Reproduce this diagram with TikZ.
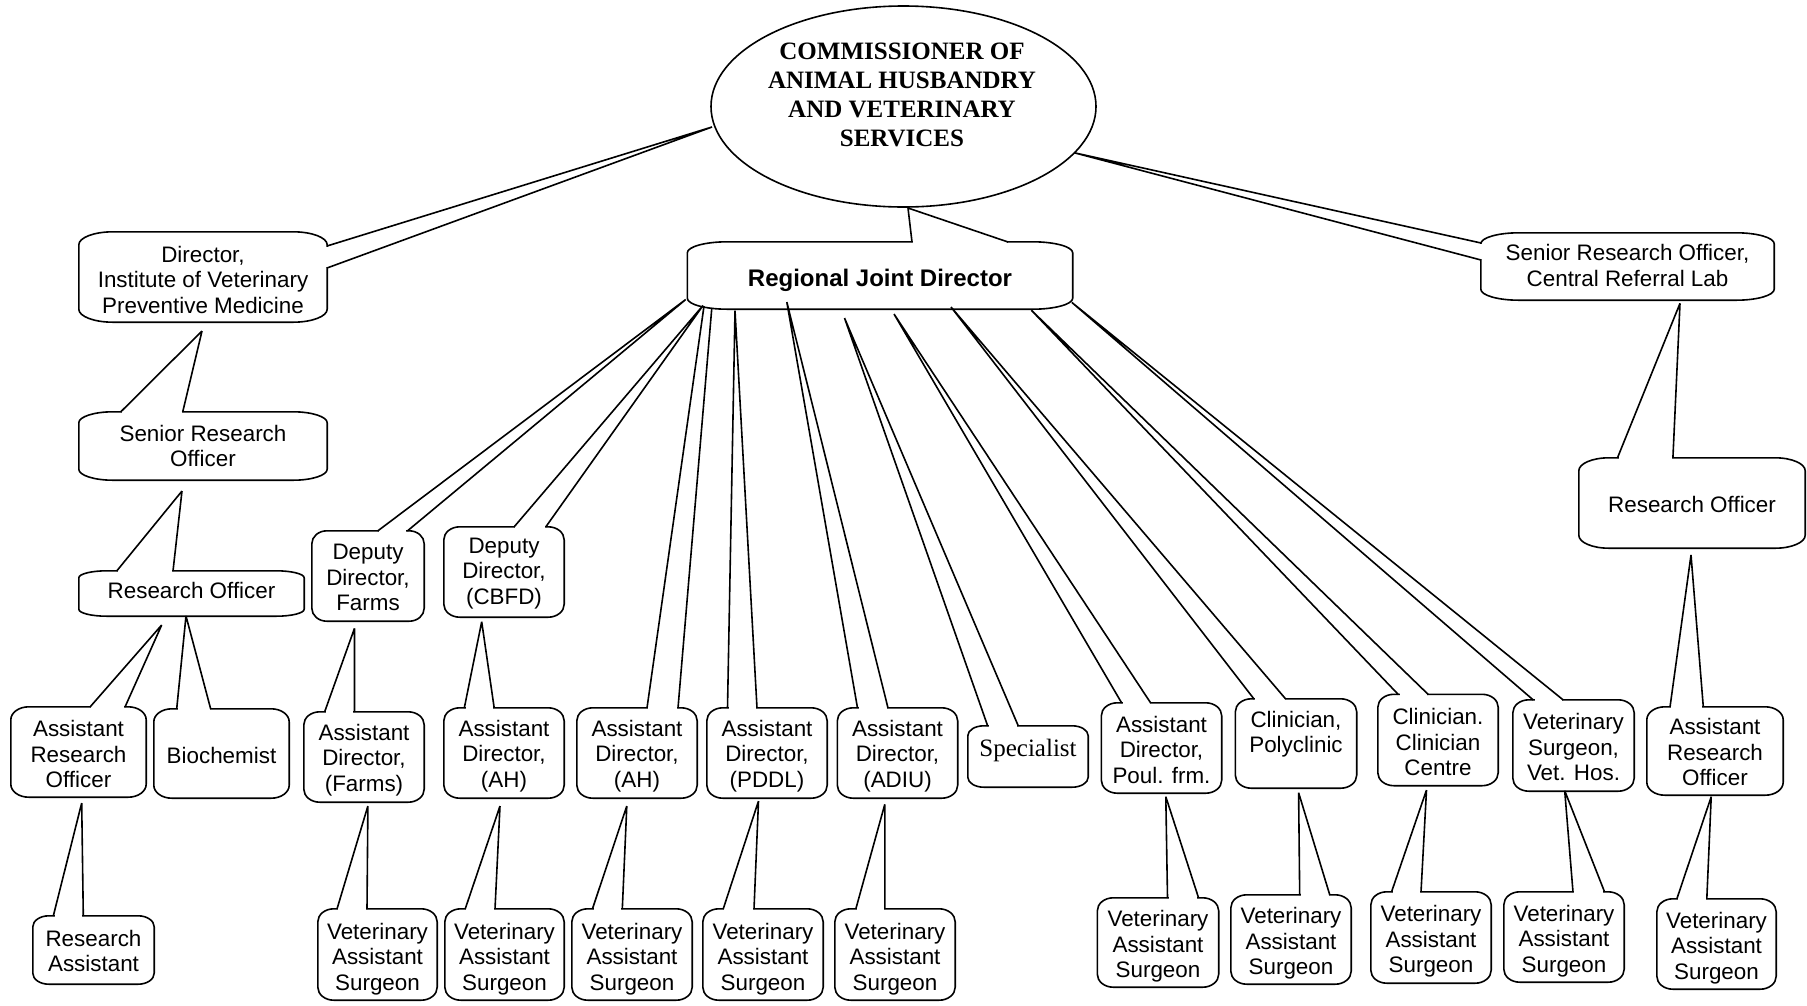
\documentclass[tikz,border=0pt]{standalone}
\usepackage{fontspec}
\setmainfont{Liberation Sans}
\newfontfamily\serifrm{Liberation Serif}
\usetikzlibrary{calc,shapes.geometric}
\tikzset{
  ln/.style={line width=1.6pt, line join=round},
  frame/.style={inner sep=0pt, draw=none},
  lbl/.style={inner sep=0pt, align=center, font=\fontsize{22.4}{25.5}\selectfont},
}
% rounded box: name, cx, cy, w, h, rx, ry, text, text y-offset
\newcommand\bx[9]{%
  \node[frame, minimum width=#4pt, minimum height=#5pt] (#1) at (#2,#3) {};
  \node[lbl] (#1t) at ($(#1.center)+(0,#9)$) {#8};
  \draw[ln] ($(#1.north west)+(#6,0)$) -- ($(#1.north east)+(-#6,0)$)
    arc[start angle=90,end angle=0,x radius=#6pt,y radius=#7pt]
    -- ($(#1.south east)+(0,-#7)$)
    arc[start angle=0,end angle=-90,x radius=#6pt,y radius=#7pt]
    -- ($(#1.south west)+(#6,0)$)
    arc[start angle=-90,end angle=-180,x radius=#6pt,y radius=#7pt]
    -- ($(#1.north west)+(0,#7)$)
    arc[start angle=180,end angle=90,x radius=#6pt,y radius=#7pt] -- cycle;
}
% callout wedge: child, base A, base B (offsets from child centre), parent, tip A, tip B (offsets from parent centre)
\newcommand\cw[6]{%
  \coordinate (cwA) at ($(#1.center)+#2$);
  \coordinate (cwB) at ($(#1.center)+#3$);
  \coordinate (cwTA) at ($(#4.center)+#5$);
  \coordinate (cwTB) at ($(#4.center)+#6$);
  \draw[white, line width=3.2pt] ($(cwA)!1.2pt!(cwB)$) -- ($(cwB)!1.2pt!(cwA)$);
  \draw[ln] (cwTA) -- (cwA) (cwB) -- (cwTB);
}
\begin{document}
\begin{tikzpicture}[x=1pt,y=-1pt]
\useasboundingbox (0,0) rectangle (1807,1005);
\fill[white] (0,0) rectangle (1807,1005);

\node[draw, ellipse, ln, minimum width=385pt, minimum height=201pt, inner sep=0pt] (comm) at (903.5,106.5) {};
\node[align=center, inner sep=0pt, font=\serifrm\bfseries\fontsize{25}{29}\selectfont] (commt)
  at ($(comm.center)+(-1.5,-11.5)$) {COMMISSIONER OF\\ANIMAL HUSBANDRY\\AND VETERINARY\\SERVICES};

\bx{rjd}{880}{275.5}{385}{67}{40}{11}{\fontsize{24}{28}\selectfont\bfseries Regional Joint Director}{5}
\bx{dir}{203}{277}{248}{90}{34}{13}{Director,\\Institute of Veterinary\\Preventive Medicine}{2.5}
\bx{sroa}{203}{446}{248}{68}{34}{11}{Senior Research\\Officer}{0}
\bx{roa}{191.5}{593.5}{225}{45}{28}{7}{Research Officer}{-3}
\bx{aroa}{78.5}{752}{135}{90}{18}{13}{Assistant\\Research\\Officer}{2}
\bx{bio}{221.5}{753.5}{135}{89}{18}{13}{Biochemist}{2}
\bx{ra}{93.5}{950}{121}{68}{16}{11}{Research\\Assistant}{1}
\bx{ddf}{368}{576}{112}{90}{15}{13}{Deputy\\Director,\\Farms}{1.5}
\bx{ddc}{504}{572}{120}{90}{16}{13}{Deputy\\Director,\\(CBFD)}{1.5}
\bx{adf}{364}{757}{120}{90}{16}{13}{Assistant\\Director,\\(Farms)}{3}
\bx{adaha}{504}{753}{120}{90}{16}{13}{Assistant\\Director,\\(AH)}{3}
\bx{adahb}{637}{753}{120}{90}{16}{13}{Assistant\\Director,\\(AH)}{3}
\bx{adp}{767}{753}{120}{90}{16}{13}{Assistant\\Director,\\(PDDL)}{3}
\bx{adi}{897.5}{753}{120}{90}{16}{13}{Assistant\\Director,\\(ADIU)}{3}
\bx{spec}{1028}{756.5}{120}{61}{16}{10}{\serifrm\fontsize{25}{29}\selectfont Specialist}{-6}
\bx{adpf}{1161.5}{748}{120}{90}{16}{13}{Assistant\\Director,\\Poul. frm.}{1.5}
\bx{poly}{1296}{743.5}{121}{89}{16}{13}{Clinician,\\Polyclinic\\~}{1}
\bx{cc}{1438}{740}{120}{91}{16}{13}{Clinician.\\Clinician\\Centre}{2}
\bx{vh}{1573.5}{745.5}{121}{91}{16}{13}{Veterinary\\Surgeon,\\Vet. Hos.}{1.5}
\bx{arob}{1715}{751}{136}{88}{18}{13}{Assistant\\Research\\Officer}{1}
\bx{rob}{1692}{503}{226}{90}{30}{13}{Research Officer}{1}
\bx{crl}{1627.5}{266.5}{293}{67}{38}{11}{Senior Research Officer,\\Central Referral Lab}{-1}
\bx{vasa}{377.5}{954.5}{119}{91}{16}{13}{Veterinary\\Assistant\\Surgeon}{4.5}
\bx{vasb}{504.5}{954.5}{119}{91}{16}{13}{Veterinary\\Assistant\\Surgeon}{4.5}
\bx{vasc}{632}{954.5}{120}{91}{16}{13}{Veterinary\\Assistant\\Surgeon}{4.5}
\bx{vasd}{763}{954.5}{120}{91}{16}{13}{Veterinary\\Assistant\\Surgeon}{4.5}
\bx{vase}{895}{954.5}{120}{91}{16}{13}{Veterinary\\Assistant\\Surgeon}{4.5}
\bx{vasf}{1158}{942.5}{121}{89}{16}{13}{Veterinary\\Assistant\\Surgeon}{4}
\bx{vasg}{1291}{939.5}{120}{89}{16}{13}{Veterinary\\Assistant\\Surgeon}{4}
\bx{vash}{1431}{937.5}{120}{91}{16}{13}{Veterinary\\Assistant\\Surgeon}{4}
\bx{vasi}{1564}{937}{120}{90}{16}{13}{Veterinary\\Assistant\\Surgeon}{4}
\bx{vasj}{1716.5}{944}{119}{90}{16}{13}{Veterinary\\Assistant\\Surgeon}{4}

\cw{rjd}{(32,-33.5)}{(128,-33.5)}{comm}{(4.5,101.5)}{(4.5,101.5)}
\cw{dir}{(124,-31)}{(124,-9)}{comm}{(-191.5,20.5)}{(-191.5,20.5)}
\cw{crl}{(-146.5,-23.5)}{(-146.5,-6.5)}{comm}{(170.5,46.2)}{(170.5,46.2)}
\cw{sroa}{(-82.4,-34)}{(-20.3,-34)}{dir}{(-1,54)}{(-1,54)}
\cw{roa}{(-74.8,-22.5)}{(-18.5,-22.5)}{sroa}{(-21,45)}{(-21,45)}
\cw{aroa}{(11.5,-45)}{(46.5,-45)}{roa}{(-29.8,31.5)}{(-29.8,31.5)}
\cw{bio}{(-44.8,-44.5)}{(-10.8,-44.5)}{roa}{(-5.5,22.5)}{(-5.5,22.5)}
\cw{ra}{(-40.2,-34)}{(-10.2,-34)}{aroa}{(3.2,51)}{(3.2,51)}
\cw{ddf}{(9.6,-45)}{(39.3,-45)}{rjd}{(-194.3,24)}{(-194.3,24)}
\cw{ddc}{(10,-45)}{(41.7,-45)}{rjd}{(-177,30)}{(-177,30)}
\cw{adahb}{(10,-45)}{(41,-45)}{rjd}{(-176,30.5)}{(-168.2,32.3)}
\cw{adp}{(-39.5,-45)}{(-10,-45)}{rjd}{(-145,35.2)}{(-145,35.2)}
\cw{adi}{(-40,-45)}{(-9.5,-45)}{rjd}{(-93.2,26.5)}{(-93.2,26.5)}
\cw{spec}{(-40.3,-30.5)}{(-9.7,-30.5)}{rjd}{(-35.5,42.5)}{(-35.5,42.5)}
\cw{adpf}{(-39.8,-45)}{(-10.8,-45)}{rjd}{(14,38.5)}{(14,38.5)}
\cw{poly}{(-42,-44.5)}{(-10.3,-44.5)}{rjd}{(71,31.5)}{(71,31.5)}
\cw{cc}{(-39.7,-45.5)}{(-9.7,-45.5)}{rjd}{(151.4,34.8)}{(151.4,34.8)}
\cw{vh}{(-40.2,-45.5)}{(-10.2,-45.5)}{rjd}{(191.8,26.9)}{(191.8,26.9)}
\cw{adf}{(-39.4,-45)}{(-9.5,-45)}{ddf}{(-13.5,52.3)}{(-13.5,52.3)}
\cw{adaha}{(-39.7,-45)}{(-9.8,-45)}{ddc}{(-22.3,49.7)}{(-22.3,49.7)}
\cw{vasa}{(-40.5,-45.5)}{(-10.5,-45.5)}{adf}{(3.9,49)}{(3.9,49)}
\cw{vasb}{(-39.3,-45.5)}{(-9.5,-45.5)}{adaha}{(-4,53)}{(-4,53)}
\cw{vasc}{(-39.6,-45.5)}{(-9.7,-45.5)}{adahb}{(-10.2,53)}{(-10.2,53)}
\cw{vasd}{(-39.8,-45.5)}{(-9,-45.5)}{adp}{(-8.5,48)}{(-8.5,48)}
\cw{vase}{(-39.2,-45.5)}{(-10.2,-45.5)}{adi}{(-12.7,51.3)}{(-12.7,51.3)}
\cw{vasf}{(9.5,-44.5)}{(40.6,-44.5)}{adpf}{(4.3,48.7)}{(4.3,48.7)}
\cw{vasg}{(8.7,-44.5)}{(38.8,-44.5)}{poly}{(2.6,49.2)}{(2.6,49.2)}
\cw{vash}{(-39.5,-45.5)}{(-10,-45.5)}{cc}{(-11.5,50)}{(-11.5,50)}
\cw{vasi}{(9,-45)}{(40.6,-45)}{vh}{(-8.8,45.2)}{(-8.8,45.2)}
\cw{vasj}{(-39.7,-45)}{(-9.7,-45)}{arob}{(-3.8,45.7)}{(-3.8,45.7)}
\cw{arob}{(-45,-44)}{(-11.7,-44)}{rob}{(-1,52)}{(-1,52)}
\cw{rob}{(-74.6,-45)}{(-19.1,-45)}{crl}{(52.5,36.8)}{(52.5,36.8)}
\end{tikzpicture}
\end{document}
